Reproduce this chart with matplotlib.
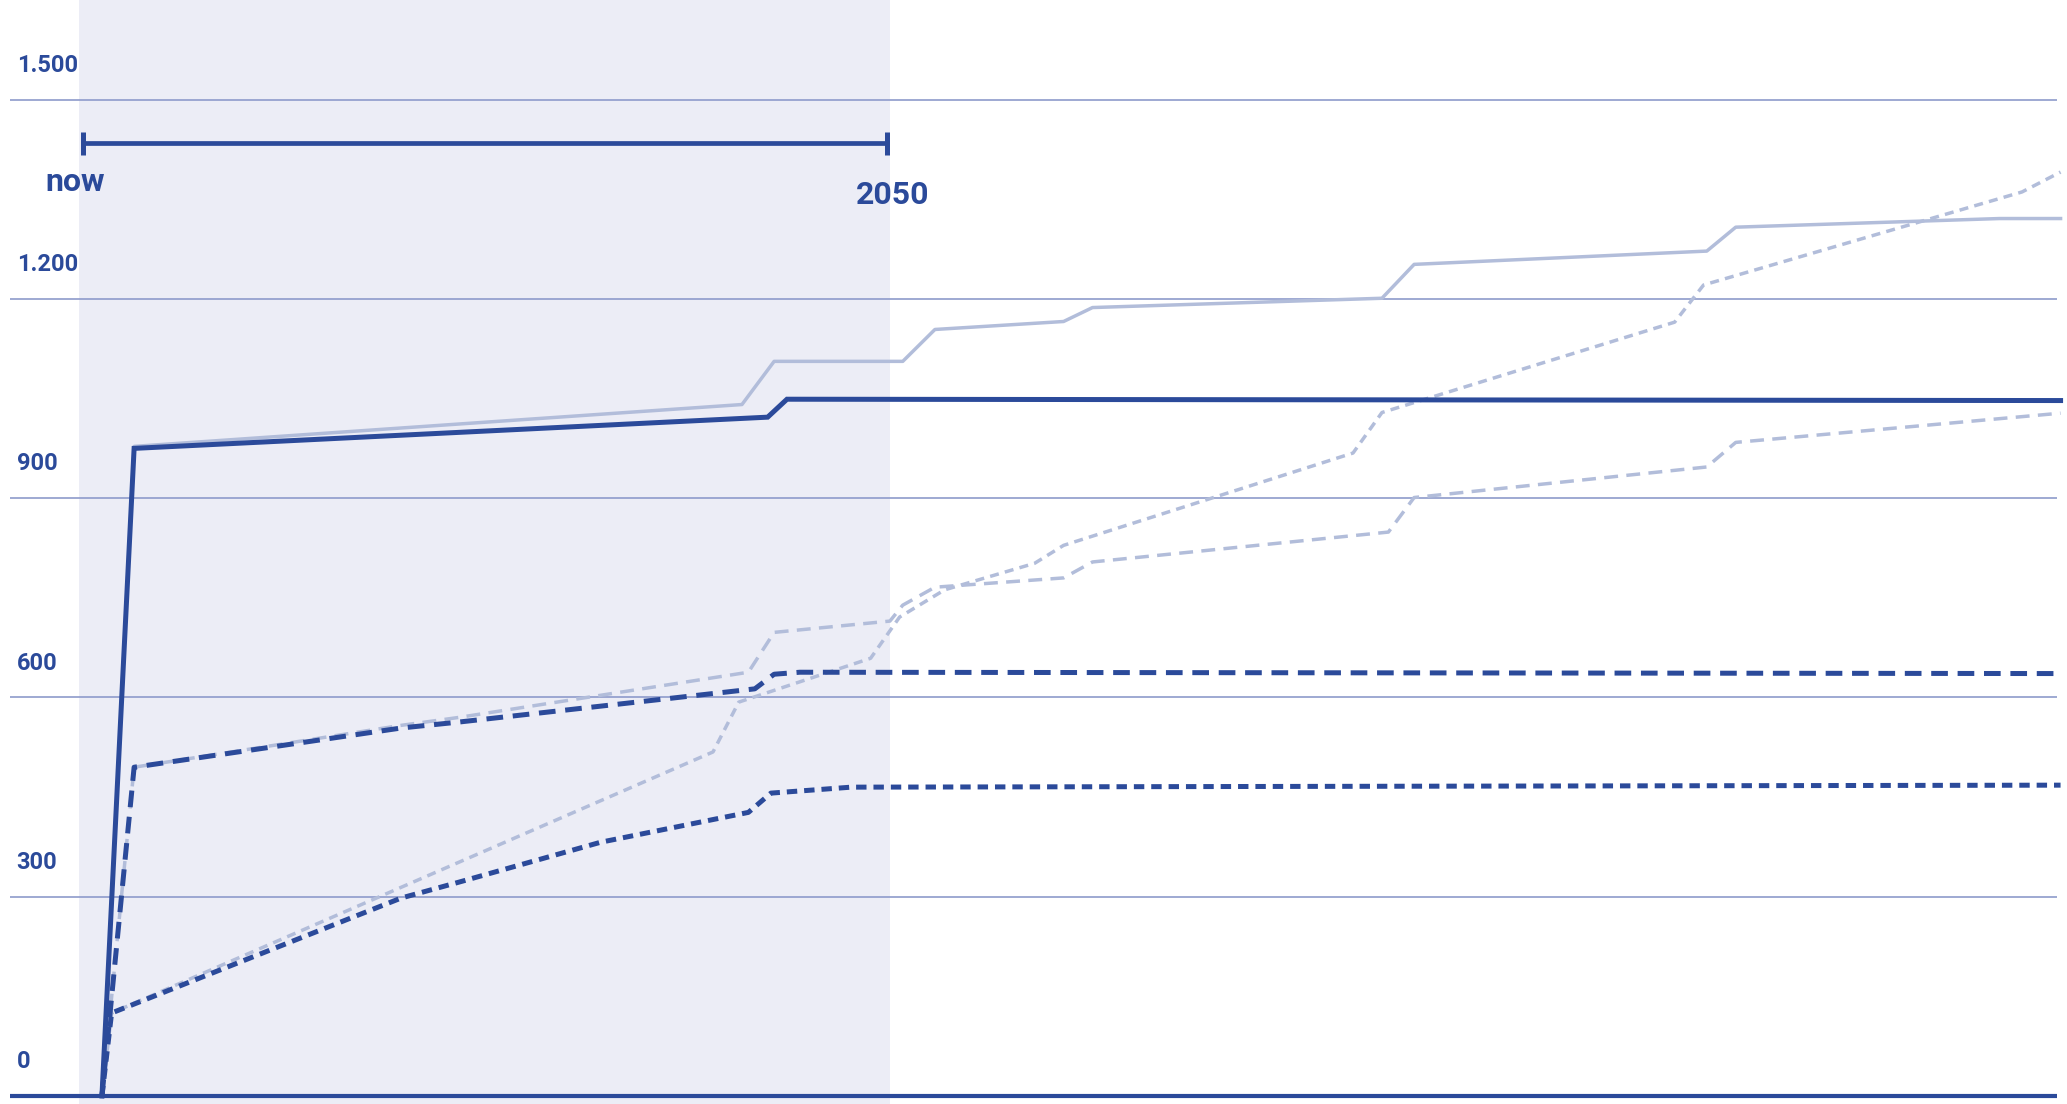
import matplotlib.pyplot as plt

# values (x in years, y in the chart's units)
dark_solid_x = [2025, 2026, 2045.7, 2046.3, 2085.9]
dark_solid_y = [0, 975, 1022, 1049, 1047]

light_solid_x = [2025, 2026, 2044.9, 2045.9, 2049.9, 2050.9, 2054.9, 2055.8,
                 2064.8, 2065.8, 2074.9, 2075.8, 2084.0, 2085.9]
light_solid_y = [0, 978, 1041, 1106, 1106, 1154, 1166, 1187,
                 1201, 1252, 1272, 1308, 1321, 1321]

dark_long_x = [2025, 2026, 2034.3, 2036.1, 2045.3, 2045.9, 2046.7, 2085.9]
dark_long_y = [0, 495, 554, 563, 613, 635, 638, 636]

light_long_x = [2025, 2026, 2034.3, 2036.1, 2045.1, 2045.9, 2049.5, 2049.9,
                2050.9, 2054.9, 2055.8, 2065.0, 2065.8, 2074.9, 2075.8, 2085.9]
light_long_y = [0, 495, 558, 570, 638, 698, 715, 739,
                766, 780, 804, 849, 901, 947, 984, 1028]

dark_short_x = [2025, 2025.3, 2034.3, 2036.1, 2040.5, 2045.1, 2045.8, 2048.3, 2085.9]
dark_short_y = [0, 125, 298, 322, 382, 427, 456, 465, 468]

light_short_x = [2025, 2025.3, 2036.1, 2044.0, 2044.8, 2048.9, 2049.8, 2051.2,
                 2054.0, 2054.9, 2063.9, 2064.8, 2073.9, 2074.8, 2084.7, 2085.9]
light_short_y = [0, 125, 352, 518, 593, 659, 721, 762,
                 802, 829, 968, 1029, 1165, 1221, 1361, 1391]

tick_values = [0, 300, 600, 900, 1200, 1500]
tick_labels = ['0', '300', '600', '900', '1.200', '1.500']

now_x, end_x = 2024.4, 2049.4
bracket_y = 1434

DARK = '#2B4A9A'
LIGHT = '#B2BDDA'
SHADE = '#ECEDF6'
GRID = '#8E9BCB'

plt.rcParams['font.family'] = ['Roboto', 'DejaVu Sans']
plt.rcParams['lines.scale_dashes'] = False

fig = plt.figure(figsize=(20.67, 11.04), dpi=100)
ax = fig.add_axes([0, 0, 1, 1])
ax.set_xlim(2021.83, 2086.10)
ax.set_ylim(-12, 1650)
ax.axis('off')

# shaded "now -> 2050" band
ax.axvspan(2024.28, 2049.5, ymin=0.0, ymax=1.0, color=SHADE, lw=0, zorder=0)

# gridlines + baseline
ax.hlines(tick_values[1:], 2022.14, 2085.8, color=GRID, lw=1.2, zorder=1)
ax.hlines(0, 2022.14, 2085.8, color=DARK, lw=3, zorder=5)
for v, lab in zip(tick_values, tick_labels):
    ax.text(2022.35, v + 42, lab, color=DARK, fontsize=17, fontweight='semibold',
            va='baseline', ha='left')

# light series first so the dark ones sit on top
ax.plot(light_solid_x, light_solid_y, color=LIGHT, lw=2.5, zorder=2)
ax.plot(light_long_x, light_long_y, color=LIGHT, lw=2.5, dashes=(10, 6), zorder=2)
ax.plot(light_short_x, light_short_y, color=LIGHT, lw=2.5, dashes=(6.5, 4.5), zorder=2)

ax.plot(dark_solid_x, dark_solid_y, color=DARK, lw=3.6, zorder=3,
        solid_joinstyle='miter')
ax.plot(dark_long_x, dark_long_y, color=DARK, lw=3.6, dashes=(12, 7), zorder=3)
ax.plot(dark_short_x, dark_short_y, color=DARK, lw=3.6, dashes=(7.5, 5), zorder=3)

# bracket now -> 2050
ax.plot([now_x, end_x], [bracket_y, bracket_y], color=DARK, lw=3.4, zorder=4,
        solid_capstyle='butt')
for bx in (now_x, end_x):
    ax.plot([bx, bx], [bracket_y - 18, bracket_y + 18], color=DARK, lw=3.6,
            zorder=4, solid_capstyle='butt')
ax.text(2024.16, 1376, 'now', color=DARK, fontsize=23, fontweight='bold',
        ha='center', va='center')
ax.text(2049.6, 1357, '2050', color=DARK, fontsize=23, fontweight='bold',
        ha='center', va='center')

fig.savefig('out.png', dpi=100)
